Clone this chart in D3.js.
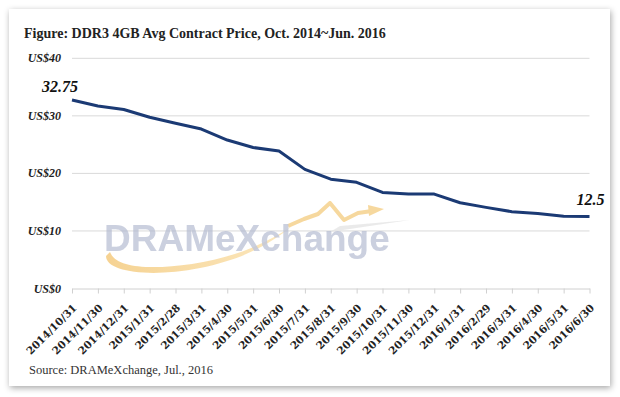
<!DOCTYPE html>
<html lang="en">
<head>
	<meta charset="UTF-8">
	<title>DDR3 4GB Avg Contract Price</title>
	<style>
		* {
			margin: 0;
			padding: 0;
		}
		body {
			background: #fff;
		}
		svg {
			display: block;
		}
	</style>
</head>
<body>
	<script src="https://cdn.jsdelivr.net/npm/d3@7"></script>
	<script>
		var months = ['2014/10/31', '2014/11/30', '2014/12/31', '2015/1/31', '2015/2/28', '2015/3/31',
			'2015/4/30', '2015/5/31', '2015/6/30', '2015/7/31', '2015/8/31', '2015/9/30',
			'2015/10/31', '2015/11/30', '2015/12/31', '2016/1/31', '2016/2/29', '2016/3/31',
			'2016/4/30', '2016/5/31', '2016/6/30'];
		var prices = [32.75, 31.7, 31.1, 29.75, 28.7, 27.7, 25.8, 24.5, 23.9, 20.7, 19.0, 18.45,
			16.7, 16.4, 16.4, 14.9, 14.1, 13.35, 13.05, 12.55, 12.5];
		var yTicks = [0, 10, 20, 30, 40];

		var W = 620, H = 397;
		var padding = { top: 58.3, bottom: 108.5, left: 72, right: 30.5 };

		var svg = d3.select('body').append('svg').attr('width', W).attr('height', H);

		// card shadow
		var defs = svg.append('defs');
		var f = defs.append('filter').attr('id', 'shadow').attr('x', '-5%').attr('y', '-5%').attr('width', '110%').attr('height', '110%');
		f.append('feDropShadow').attr('dx', 1).attr('dy', 2).attr('stdDeviation', 3).attr('flood-color', '#000').attr('flood-opacity', 0.35);

		var grad = defs.append('linearGradient').attr('id', 'swoosh').attr('x1', 0).attr('x2', 1);
		grad.append('stop').attr('offset', 0).attr('stop-color', '#f4c878');
		grad.append('stop').attr('offset', 1).attr('stop-color', '#fbe3b0');

		svg.append('rect')
			.attr('x', 9).attr('y', 9).attr('width', 601).attr('height', 377)
			.attr('fill', '#fff')
			.attr('filter', 'url(#shadow)');

		var xScale = d3.scalePoint().domain(months).range([padding.left, W - padding.right]);
		var yScale = d3.scaleLinear().domain([0, 40]).range([H - padding.bottom, padding.top]);

		// title
		svg.append('text')
			.attr('x', 24).attr('y', 38)
			.style('font-family', 'Liberation Serif, serif')
			.style('font-weight', 'bold')
			.style('font-size', '14px')
			.style('fill', '#222')
			.text('Figure: DDR3 4GB Avg Contract Price, Oct. 2014~Jun. 2016');

		// gridlines
		svg.append('g')
			.selectAll('line')
			.data(yTicks.slice(1))
			.enter()
			.append('line')
			.attr('x1', xScale.range()[0]).attr('x2', xScale.range()[1])
			.attr('y1', function (d) { return yScale(d); })
			.attr('y2', function (d) { return yScale(d); })
			.attr('stroke', '#d9d9d9').attr('stroke-width', 1);

		// y labels
		svg.append('g')
			.selectAll('text')
			.data(yTicks)
			.enter()
			.append('text')
			.attr('x', 61)
			.attr('y', function (d) { return yScale(d) + 4; })
			.attr('text-anchor', 'end')
			.style('font-family', 'Liberation Serif, serif')
			.style('font-weight', 'bold')
			.style('font-style', 'italic')
			.style('font-size', '12px')
			.style('fill', '#222')
			.text(function (d) { return 'US$' + d; });

		// watermark (logo)
		var wm = svg.append('g').attr('opacity', 0.8);
		wm.append('path')
			.attr('d', 'M106,256 C106,272 150,278 200,268 C240,260 268,246 292,226 C266,244 232,258 192,264 C150,270 116,268 110,252 Z')
			.attr('fill', 'url(#swoosh)');
		wm.append('path')
			.attr('d', 'M330,232 L410,220 L340,226 Z')
			.attr('fill', '#e6e6e6');
		wm.append('path')
			.attr('d', 'M288,226 L304,219 L318,214 L330,203 L344,220 L358,213 L372,211')
			.attr('fill', 'none')
			.attr('stroke', '#f5cf86')
			.attr('stroke-width', 4)
			.attr('stroke-linejoin', 'round');
		wm.append('path')
			.attr('d', 'M368,205 L384,209 L369,216 Z')
			.attr('fill', '#f5cf86');
		wm.append('text')
			.attr('x', 104).attr('y', 251)
			.style('font-family', 'Liberation Sans, Arial, sans-serif')
			.style('font-weight', 'bold')
			.style('font-size', '37px')
			.style('fill', '#b3bad0')
			.style('fill-opacity', 0.85)
			.text('DRAMeXchange');

		// x axis
		var xAxis = svg.append('g')
			.attr('transform', 'translate(0,' + yScale(0) + ')')
			.call(d3.axisBottom(xScale).tickSize(5).tickSizeOuter(0));
		xAxis.select('.domain').attr('stroke', '#d0d0d0');
		xAxis.selectAll('.tick line').attr('stroke', '#d0d0d0');
		xAxis.selectAll('.tick text')
			.attr('text-anchor', 'end')
			.attr('dy', null)
			.attr('y', 0)
			.attr('transform', 'translate(5,20) rotate(-45)')
			.style('font-family', 'DejaVu Serif, serif')
			.style('font-weight', 'bold')
			.style('font-size', '10.5px')
			.style('fill', '#222');

		// price line
		var line = d3.line()
			.x(function (d, i) { return xScale(months[i]); })
			.y(function (d) { return yScale(d); });

		svg.append('path')
			.datum(prices)
			.attr('d', line)
			.attr('fill', 'none')
			.attr('stroke', '#1b3a74')
			.attr('stroke-width', 3)
			.attr('stroke-linejoin', 'round');

		// end labels
		var last = prices.length - 1;
		svg.append('text')
			.attr('x', xScale(months[0]) - 30).attr('y', yScale(prices[0]) - 8)
			.style('font-family', 'Liberation Serif, serif')
			.style('font-weight', 'bold')
			.style('font-style', 'italic')
			.style('font-size', '16px')
			.style('fill', '#111')
			.text(prices[0]);
		svg.append('text')
			.attr('x', xScale(months[last]) + 15).attr('y', yScale(prices[last]) - 12)
			.attr('text-anchor', 'end')
			.style('font-family', 'Liberation Serif, serif')
			.style('font-weight', 'bold')
			.style('font-style', 'italic')
			.style('font-size', '16px')
			.style('fill', '#111')
			.text(prices[last]);

		// source
		svg.append('text')
			.attr('x', 29).attr('y', 374)
			.style('font-family', 'Liberation Serif, serif')
			.style('font-size', '12.5px')
			.style('fill', '#333')
			.text('Source: DRAMeXchange, Jul., 2016');
	</script>
</body>
</html>
